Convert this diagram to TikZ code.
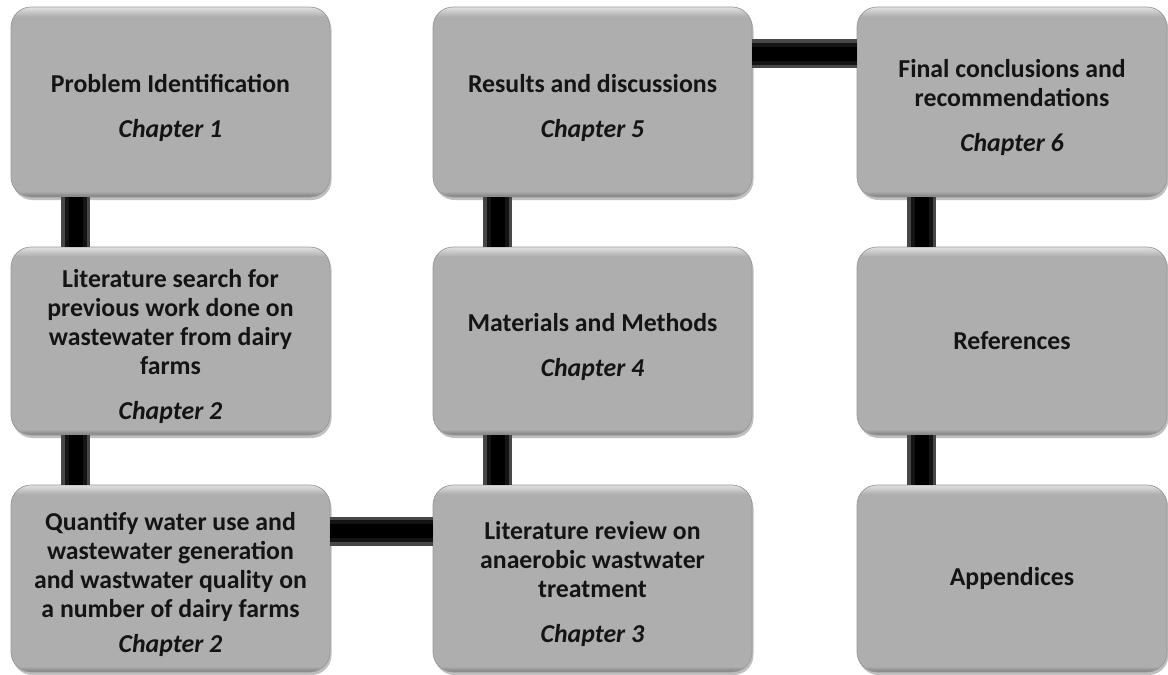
\documentclass[tikz,border=0pt]{standalone}
\usepackage{fontspec}
\setmainfont{Carlito}
\usetikzlibrary{shadows,calc}
\definecolor{boxgray}{RGB}{174,174,174}
\definecolor{boxlight}{RGB}{225,225,225}
\definecolor{boxdark}{RGB}{125,125,125}
\definecolor{txt}{RGB}{20,20,20}
\pgfdeclareverticalshading{boxshade}{100bp}{color(0bp)=(boxdark); color(25bp)=(boxdark); color(26.5bp)=(boxgray); color(72.5bp)=(boxgray); color(75bp)=(boxlight); color(100bp)=(boxlight)}
\tikzset{
  chbox/.style={rectangle, rounded corners=20pt, shading=boxshade, draw=black!40, line width=0.7pt,
    drop shadow={shadow xshift=1.5pt, shadow yshift=-3pt, opacity=0.25, fill=black},
    align=center, text=txt, font=\fontsize{25.8}{29}\selectfont\bfseries, inner sep=4pt},
  connout/.style={line width=29pt, draw=black!72},
  connmid/.style={line width=22pt, draw=black!92},
  conninn/.style={line width=14pt, draw=black},
}
\newcommand{\chap}[2][16pt]{\\[#1]\textit{Chapter #2}}
\newcommand{\tfirst}{\rule{0pt}{30pt}}
\begin{document}
\begin{tikzpicture}[x=1pt,y=-1pt]
\useasboundingbox (0,0) rectangle (1168,675);
% boxes
\node[chbox, minimum width=319pt, minimum height=190pt] (p1) at (170.5,102) {\tfirst Problem Identification\chap{1}};
\node[chbox, minimum width=319pt, minimum height=188pt] (p2) at (170.5,341) {\tfirst Literature search for\\previous work done on\\wastewater from dairy\\farms\chap{2}};
\node[chbox, minimum width=319pt, minimum height=187pt] (p3) at (170.5,578.5) {\tfirst Quantify water use and\\wastewater generation\\and wastwater quality on\\a number of dairy farms\chap[6pt]{2}};
\node[chbox, minimum width=319pt, minimum height=187pt] (p4) at (592.5,578.5) {\tfirst Literature review on\\anaerobic wastwater\\treatment\chap{3}};
\node[chbox, minimum width=319pt, minimum height=188pt] (p5) at (592.5,341) {\tfirst Materials and Methods\chap{4}};
\node[chbox, minimum width=319pt, minimum height=190pt] (p6) at (592.5,102) {\tfirst Results and discussions\chap{5}};
\node[chbox, minimum width=310pt, minimum height=190pt] (p7) at (1012,102) {\tfirst Final conclusions and\\recommendations\chap{6}};
\node[chbox, minimum width=310pt, minimum height=188pt] (p8) at (1012,341) {References};
\node[chbox, minimum width=310pt, minimum height=187pt] (p9) at (1012,578.5) {Appendices};
% connectors
\foreach \s in {connout,connmid,conninn}{
  \draw[\s] ($(p1.south west)+(65,0)$) -- ($(p2.north west)+(65,0)$);
  \draw[\s] ($(p2.south west)+(65,0)$) -- ($(p3.north west)+(65,0)$);
  \draw[\s] ($(p3.north east)+(0,46.5)$) -- ($(p4.north west)+(0,46.5)$);
  \draw[\s] ($(p4.north west)+(65,0)$) -- ($(p5.south west)+(65,0)$);
  \draw[\s] ($(p5.north west)+(65,0)$) -- ($(p6.south west)+(65,0)$);
  \draw[\s] ($(p6.north east)+(0,47)$) -- ($(p7.north west)+(0,47)$);
  \draw[\s] ($(p7.south west)+(65,0)$) -- ($(p8.north west)+(65,0)$);
  \draw[\s] ($(p8.south west)+(65,0)$) -- ($(p9.north west)+(65,0)$);
}
\end{tikzpicture}
\end{document}
